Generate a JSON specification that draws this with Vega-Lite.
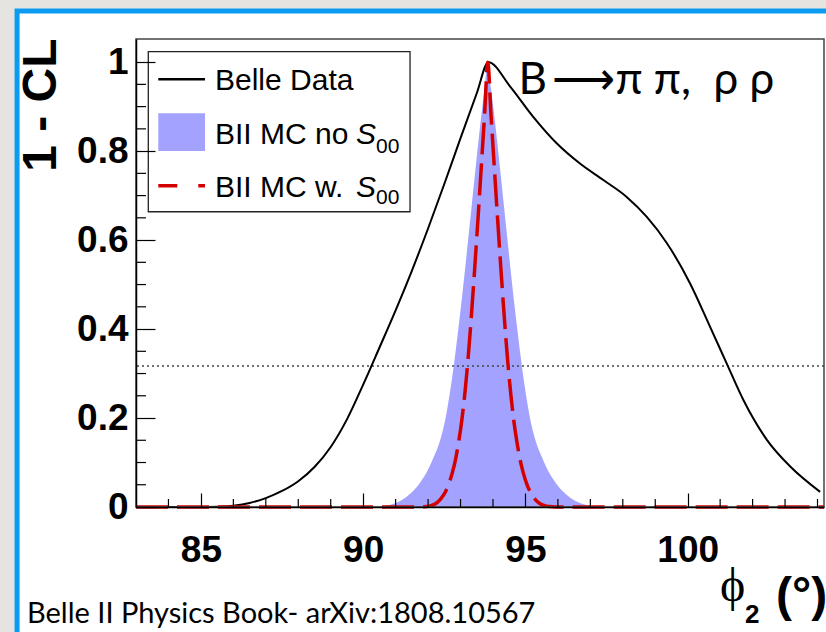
{
  "$schema": "https://vega.github.io/schema/vega-lite/v6.json",
  "width": 688,
  "height": 468,
  "autosize": {"type": "none"},
  "padding": {"left": 136, "top": 39, "right": 2, "bottom": 125},
  "background": "#e6e4e1",
  "config": {"view": {"stroke": null}, "font": "Liberation Sans", "axis": {"labelOverlap": false, "labelFlush": false}},
  "datasets": {
    "belle": [
      {"x": 83, "y": 0}, {"x": 84, "y": 0}, {"x": 85, "y": 0}, {"x": 85.5, "y": 0.0005},
      {"x": 86, "y": 0.003}, {"x": 86.5, "y": 0.009}, {"x": 87, "y": 0.02}, {"x": 87.5, "y": 0.036},
      {"x": 88, "y": 0.058}, {"x": 88.5, "y": 0.09}, {"x": 89, "y": 0.135}, {"x": 89.5, "y": 0.197},
      {"x": 90, "y": 0.275}, {"x": 90.5, "y": 0.358}, {"x": 91, "y": 0.442}, {"x": 91.5, "y": 0.531},
      {"x": 92, "y": 0.626}, {"x": 92.5, "y": 0.726}, {"x": 93, "y": 0.829}, {"x": 93.5, "y": 0.93},
      {"x": 93.86, "y": 1.0}, {"x": 94.53, "y": 0.945}, {"x": 95.24, "y": 0.877}, {"x": 95.97, "y": 0.817},
      {"x": 96.68, "y": 0.772}, {"x": 97.4, "y": 0.735}, {"x": 98.12, "y": 0.697}, {"x": 98.74, "y": 0.652},
      {"x": 99.36, "y": 0.593}, {"x": 100.07, "y": 0.503}, {"x": 100.69, "y": 0.405}, {"x": 101.2, "y": 0.323},
      {"x": 101.72, "y": 0.24}, {"x": 102.44, "y": 0.151}, {"x": 103.16, "y": 0.091}, {"x": 104.08, "y": 0.034}
    ],
    "mc_no": [
      {"x": 83, "y": 0}, {"x": 88, "y": 0}, {"x": 90.34, "y": 0}, {"x": 90.64, "y": 0.002}, {"x": 90.84, "y": 0.005},
      {"x": 91.04, "y": 0.01}, {"x": 91.24, "y": 0.018}, {"x": 91.44, "y": 0.029}, {"x": 91.64, "y": 0.044},
      {"x": 91.84, "y": 0.064}, {"x": 92.04, "y": 0.09}, {"x": 92.19, "y": 0.115}, {"x": 92.34, "y": 0.143},
      {"x": 92.44, "y": 0.168}, {"x": 92.54, "y": 0.2}, {"x": 92.64, "y": 0.242}, {"x": 92.74, "y": 0.29},
      {"x": 92.84, "y": 0.345}, {"x": 92.94, "y": 0.405}, {"x": 93.04, "y": 0.468}, {"x": 93.14, "y": 0.535},
      {"x": 93.24, "y": 0.605}, {"x": 93.34, "y": 0.675}, {"x": 93.44, "y": 0.745}, {"x": 93.54, "y": 0.815},
      {"x": 93.64, "y": 0.88}, {"x": 93.74, "y": 0.94}, {"x": 93.84, "y": 1.0},
      {"x": 93.94, "y": 0.94}, {"x": 94.04, "y": 0.88}, {"x": 94.14, "y": 0.815}, {"x": 94.24, "y": 0.745},
      {"x": 94.34, "y": 0.675}, {"x": 94.44, "y": 0.605}, {"x": 94.54, "y": 0.535}, {"x": 94.64, "y": 0.468},
      {"x": 94.74, "y": 0.405}, {"x": 94.84, "y": 0.345}, {"x": 94.94, "y": 0.29}, {"x": 95.04, "y": 0.242},
      {"x": 95.14, "y": 0.2}, {"x": 95.24, "y": 0.168}, {"x": 95.34, "y": 0.143}, {"x": 95.49, "y": 0.115},
      {"x": 95.64, "y": 0.09}, {"x": 95.84, "y": 0.064}, {"x": 96.04, "y": 0.044}, {"x": 96.24, "y": 0.029},
      {"x": 96.44, "y": 0.018}, {"x": 96.64, "y": 0.01}, {"x": 96.84, "y": 0.005}, {"x": 97.04, "y": 0.002},
      {"x": 97.34, "y": 0}, {"x": 100, "y": 0}, {"x": 104.2, "y": 0}
    ],
    "mc_w": [
      {"x": 83, "y": 0}, {"x": 88, "y": 0}, {"x": 91.74, "y": 0}, {"x": 91.94, "y": 0.001}, {"x": 92.09, "y": 0.003},
      {"x": 92.24, "y": 0.008}, {"x": 92.34, "y": 0.014}, {"x": 92.44, "y": 0.023}, {"x": 92.54, "y": 0.035},
      {"x": 92.64, "y": 0.052}, {"x": 92.74, "y": 0.075}, {"x": 92.84, "y": 0.105}, {"x": 92.94, "y": 0.145},
      {"x": 93.04, "y": 0.195}, {"x": 93.14, "y": 0.26}, {"x": 93.24, "y": 0.34}, {"x": 93.34, "y": 0.435},
      {"x": 93.44, "y": 0.54}, {"x": 93.54, "y": 0.65}, {"x": 93.64, "y": 0.765}, {"x": 93.74, "y": 0.88},
      {"x": 93.84, "y": 1.0},
      {"x": 93.94, "y": 0.88}, {"x": 94.04, "y": 0.765}, {"x": 94.14, "y": 0.65}, {"x": 94.24, "y": 0.54},
      {"x": 94.34, "y": 0.435}, {"x": 94.44, "y": 0.34}, {"x": 94.54, "y": 0.26}, {"x": 94.64, "y": 0.195},
      {"x": 94.74, "y": 0.145}, {"x": 94.84, "y": 0.105}, {"x": 94.94, "y": 0.075}, {"x": 95.04, "y": 0.052},
      {"x": 95.14, "y": 0.035}, {"x": 95.24, "y": 0.023}, {"x": 95.34, "y": 0.014}, {"x": 95.44, "y": 0.008},
      {"x": 95.59, "y": 0.003}, {"x": 95.74, "y": 0.001}, {"x": 95.94, "y": 0}, {"x": 100, "y": 0}, {"x": 104.2, "y": 0}
    ],
    "xminor": [
      {"v": 84}, {"v": 86}, {"v": 87}, {"v": 88}, {"v": 89}, {"v": 91}, {"v": 92}, {"v": 93}, {"v": 94},
      {"v": 96}, {"v": 97}, {"v": 98}, {"v": 99}, {"v": 101}, {"v": 102}, {"v": 103}, {"v": 104}
    ],
    "yminor": [
      {"v": 0.05}, {"v": 0.1}, {"v": 0.15}, {"v": 0.25}, {"v": 0.3}, {"v": 0.35}, {"v": 0.45}, {"v": 0.5},
      {"v": 0.55}, {"v": 0.65}, {"v": 0.7}, {"v": 0.75}, {"v": 0.85}, {"v": 0.9}, {"v": 0.95}
    ]
  },
  "layer": [
    {
      "data": {"values": [{}]},
      "mark": {"type": "rect", "fill": "white", "stroke": "#0b9bf0", "strokeWidth": 5},
      "encoding": {
        "x": {
          "datum": 79.335, "type": "quantitative",
          "scale": {"domain": [83, 104.2], "nice": false, "zero": false},
          "axis": {
            "title": null,
            "values": [85, 90, 95, 100],
            "labelFont": "Liberation Sans", "labelFontWeight": "bold", "labelFontSize": 37, "labelColor": "black",
            "labelPadding": 39, "labelFlush": false, "labelOverlap": false,
            "tickSize": -14, "tickColor": "black", "tickWidth": 1.2,
            "domainColor": "black", "domainWidth": 1.5, "grid": false, "zindex": 1
          }
        },
        "x2": {"datum": 125},
        "y": {
          "datum": 1.1151, "type": "quantitative",
          "scale": {"domain": [0, 1.052], "nice": false, "zero": false},
          "axis": {
            "title": "1 - CL",
            "values": [0, 0.2, 0.4, 0.6, 0.8, 1],
            "labelExpr": "'' + round(datum.value*10)/10",
            "labelFont": "Liberation Sans", "labelFontWeight": "bold", "labelFontSize": 37, "labelColor": "black",
            "labelPadding": 27, "labelFlush": false, "labelOverlap": false,
            "tickSize": -19, "tickColor": "black", "tickWidth": 1.2,
            "domainColor": "black", "domainWidth": 1.5, "grid": false, "zindex": 1,
            "titleFont": "Liberation Sans", "titleFontSize": 48, "titleFontWeight": "bold", "titleColor": "black",
            "titleAngle": -90, "titleAlign": "right", "titleBaseline": "alphabetic", "titleX": -81, "titleY": -1
          }
        },
        "y2": {"datum": -1}
      }
    },
    {
      "data": {"name": "mc_no"},
      "mark": {"type": "area", "interpolate": "monotone", "color": "#a3a3ff", "opacity": 1},
      "encoding": {
        "x": {"field": "x", "type": "quantitative", "scale": {"domain": [83, 104.2], "nice": false, "zero": false}},
        "y": {"field": "y", "type": "quantitative", "scale": {"domain": [0, 1.052], "nice": false, "zero": false}}
      }
    },
    {
      "data": {"values": [{}]},
      "mark": {"type": "rule", "color": "#444", "strokeDash": [2, 3], "strokeWidth": 1.3},
      "encoding": {
        "y": {"datum": 0.317, "type": "quantitative", "scale": {"domain": [0, 1.052], "nice": false, "zero": false}}
      }
    },
    {
      "data": {"name": "belle"},
      "mark": {"type": "line", "interpolate": "monotone", "strokeWidth": 2, "color": "black"},
      "encoding": {
        "x": {"field": "x", "type": "quantitative", "scale": {"domain": [83, 104.2], "nice": false, "zero": false}},
        "y": {"field": "y", "type": "quantitative", "scale": {"domain": [0, 1.052], "nice": false, "zero": false}}
      }
    },
    {
      "data": {"name": "mc_w"},
      "mark": {"type": "line", "interpolate": "monotone", "strokeWidth": 3.5, "strokeDash": [32, 9], "color": "#d40000"},
      "encoding": {
        "x": {"field": "x", "type": "quantitative", "scale": {"domain": [83, 104.2], "nice": false, "zero": false}},
        "y": {"field": "y", "type": "quantitative", "scale": {"domain": [0, 1.052], "nice": false, "zero": false}}
      }
    },
    {
      "data": {"values": [{}]},
      "mark": {"type": "rect", "filled": false, "stroke": "#444", "strokeWidth": 1.5},
      "encoding": {
        "x": {"datum": 83, "type": "quantitative", "scale": {"domain": [83, 104.2], "nice": false, "zero": false}},
        "x2": {"datum": 104.2},
        "y": {"datum": 0, "type": "quantitative", "scale": {"domain": [0, 1.052], "nice": false, "zero": false}},
        "y2": {"datum": 1.052}
      }
    },
    {
      "data": {"name": "xminor"},
      "mark": {"type": "rule", "color": "black", "strokeWidth": 1.2},
      "encoding": {
        "x": {"field": "v", "type": "quantitative", "scale": {"domain": [83, 104.2], "nice": false, "zero": false}},
        "y": {"datum": 0, "type": "quantitative", "scale": {"domain": [0, 1.052], "nice": false, "zero": false}},
        "y2": {"datum": 0.018}
      }
    },
    {
      "data": {"name": "yminor"},
      "mark": {"type": "rule", "color": "black", "strokeWidth": 1.2},
      "encoding": {
        "y": {"field": "v", "type": "quantitative", "scale": {"domain": [0, 1.052], "nice": false, "zero": false}},
        "x": {"datum": 83, "type": "quantitative", "scale": {"domain": [83, 104.2], "nice": false, "zero": false}},
        "x2": {"datum": 83.308}
      }
    },
    {
      "data": {"values": [{}]},
      "mark": {"type": "rect", "fill": "white", "stroke": "#222", "strokeWidth": 1.3},
      "encoding": {
        "x": {"datum": 83.379, "type": "quantitative", "scale": {"domain": [83, 104.2], "nice": false, "zero": false}},
        "x2": {"datum": 91.444},
        "y": {"datum": 1.0234, "type": "quantitative", "scale": {"domain": [0, 1.052], "nice": false, "zero": false}},
        "y2": {"datum": 0.6637}
      }
    },
    {
      "data": {"values": [{}]},
      "mark": {"type": "rule", "color": "black", "strokeWidth": 2.5},
      "encoding": {
        "x": {"datum": 83.687, "type": "quantitative", "scale": {"domain": [83, 104.2], "nice": false, "zero": false}},
        "x2": {"datum": 85.126},
        "y": {"datum": 0.9618, "type": "quantitative", "scale": {"domain": [0, 1.052], "nice": false, "zero": false}}
      }
    },
    {
      "data": {"values": [{}]},
      "mark": {"type": "rect", "color": "#a3a3ff", "opacity": 1},
      "encoding": {
        "x": {"datum": 83.687, "type": "quantitative", "scale": {"domain": [83, 104.2], "nice": false, "zero": false}},
        "x2": {"datum": 85.126},
        "y": {"datum": 0.8849, "type": "quantitative", "scale": {"domain": [0, 1.052], "nice": false, "zero": false}},
        "y2": {"datum": 0.8002}
      }
    },
    {
      "data": {"values": [{}]},
      "mark": {"type": "rule", "color": "#d40000", "strokeWidth": 3.5, "strokeDash": [19, 21]},
      "encoding": {
        "x": {"datum": 83.687, "type": "quantitative", "scale": {"domain": [83, 104.2], "nice": false, "zero": false}},
        "x2": {"datum": 85.126},
        "y": {"datum": 0.7222, "type": "quantitative", "scale": {"domain": [0, 1.052], "nice": false, "zero": false}}
      }
    },
    {
      "data": {"values": [{}]},
      "mark": {"type": "text", "text": "Belle Data", "font": "Liberation Sans", "fontSize": 30, "align": "left", "baseline": "alphabetic", "color": "black"},
      "encoding": {
        "x": {"datum": 85.4345, "type": "quantitative", "scale": {"domain": [83, 104.2], "nice": false, "zero": false}},
        "y": {"datum": 0.9373, "type": "quantitative", "scale": {"domain": [0, 1.052], "nice": false, "zero": false}}
      }
    },
    {
      "data": {"values": [{}]},
      "mark": {"type": "text", "text": "BII MC no", "font": "Liberation Sans", "fontSize": 30, "align": "left", "baseline": "alphabetic", "color": "black"},
      "encoding": {
        "x": {"datum": 85.4345, "type": "quantitative", "scale": {"domain": [83, 104.2], "nice": false, "zero": false}},
        "y": {"datum": 0.8159, "type": "quantitative", "scale": {"domain": [0, 1.052], "nice": false, "zero": false}}
      }
    },
    {
      "data": {"values": [{}]},
      "mark": {"type": "text", "text": "S", "font": "Liberation Sans", "fontStyle": "italic", "fontSize": 30, "align": "left", "baseline": "alphabetic", "color": "black"},
      "encoding": {
        "x": {"datum": 89.78, "type": "quantitative", "scale": {"domain": [83, 104.2], "nice": false, "zero": false}},
        "y": {"datum": 0.8159, "type": "quantitative", "scale": {"domain": [0, 1.052], "nice": false, "zero": false}}
      }
    },
    {
      "data": {"values": [{}]},
      "mark": {"type": "text", "text": "00", "font": "Liberation Sans", "fontSize": 21, "align": "left", "baseline": "alphabetic", "color": "black"},
      "encoding": {
        "x": {"datum": 90.396, "type": "quantitative", "scale": {"domain": [83, 104.2], "nice": false, "zero": false}},
        "y": {"datum": 0.795, "type": "quantitative", "scale": {"domain": [0, 1.052], "nice": false, "zero": false}}
      }
    },
    {
      "data": {"values": [{}]},
      "mark": {"type": "text", "text": "BII MC w.", "font": "Liberation Sans", "fontSize": 30, "align": "left", "baseline": "alphabetic", "color": "black"},
      "encoding": {
        "x": {"datum": 85.4345, "type": "quantitative", "scale": {"domain": [83, 104.2], "nice": false, "zero": false}},
        "y": {"datum": 0.6968, "type": "quantitative", "scale": {"domain": [0, 1.052], "nice": false, "zero": false}}
      }
    },
    {
      "data": {"values": [{}]},
      "mark": {"type": "text", "text": "S", "font": "Liberation Sans", "fontStyle": "italic", "fontSize": 30, "align": "left", "baseline": "alphabetic", "color": "black"},
      "encoding": {
        "x": {"datum": 89.78, "type": "quantitative", "scale": {"domain": [83, 104.2], "nice": false, "zero": false}},
        "y": {"datum": 0.6968, "type": "quantitative", "scale": {"domain": [0, 1.052], "nice": false, "zero": false}}
      }
    },
    {
      "data": {"values": [{}]},
      "mark": {"type": "text", "text": "00", "font": "Liberation Sans", "fontSize": 21, "align": "left", "baseline": "alphabetic", "color": "black"},
      "encoding": {
        "x": {"datum": 90.396, "type": "quantitative", "scale": {"domain": [83, 104.2], "nice": false, "zero": false}},
        "y": {"datum": 0.681, "type": "quantitative", "scale": {"domain": [0, 1.052], "nice": false, "zero": false}}
      }
    },
    {
      "data": {"values": [{}]},
      "mark": {"type": "text", "text": "B\u2009⟶π π,\u00a0\u00a0ρ ρ", "font": "Lato", "fontSize": 44, "align": "left", "baseline": "alphabetic", "color": "black"},
      "encoding": {
        "x": {"datum": 94.787, "type": "quantitative", "scale": {"domain": [83, 104.2], "nice": false, "zero": false}},
        "y": {"datum": 0.9276, "type": "quantitative", "scale": {"domain": [0, 1.052], "nice": false, "zero": false}}
      }
    },
    {
      "data": {"values": [{}]},
      "mark": {"type": "text", "text": "Belle II Physics Book- arXiv:1808.10567", "font": "Lato", "fontSize": 29, "align": "left", "baseline": "alphabetic", "color": "black"},
      "encoding": {
        "x": {"datum": 79.641, "type": "quantitative", "scale": {"domain": [83, 104.2], "nice": false, "zero": false}},
        "y": {"datum": -0.2607, "type": "quantitative", "scale": {"domain": [0, 1.052], "nice": false, "zero": false}}
      }
    },
    {
      "data": {"values": [{}]},
      "mark": {"type": "text", "text": "ϕ", "font": "Liberation Serif", "fontSize": 48, "align": "left", "baseline": "alphabetic", "color": "black"},
      "encoding": {
        "x": {"datum": 100.997, "type": "quantitative", "scale": {"domain": [83, 104.2], "nice": false, "zero": false}},
        "y": {"datum": -0.2113, "type": "quantitative", "scale": {"domain": [0, 1.052], "nice": false, "zero": false}}
      }
    },
    {
      "data": {"values": [{}]},
      "mark": {"type": "text", "text": "2", "font": "Liberation Sans", "fontWeight": "bold", "fontSize": 26, "align": "left", "baseline": "alphabetic", "color": "black"},
      "encoding": {
        "x": {"datum": 101.767, "type": "quantitative", "scale": {"domain": [83, 104.2], "nice": false, "zero": false}},
        "y": {"datum": -0.2607, "type": "quantitative", "scale": {"domain": [0, 1.052], "nice": false, "zero": false}}
      }
    },
    {
      "data": {"values": [{}]},
      "mark": {"type": "text", "text": "(°)", "font": "Liberation Sans", "fontWeight": "bold", "fontSize": 48, "align": "left", "baseline": "alphabetic", "color": "black"},
      "encoding": {
        "x": {"datum": 102.723, "type": "quantitative", "scale": {"domain": [83, 104.2], "nice": false, "zero": false}},
        "y": {"datum": -0.2338, "type": "quantitative", "scale": {"domain": [0, 1.052], "nice": false, "zero": false}}
      }
    }
  ]
}
